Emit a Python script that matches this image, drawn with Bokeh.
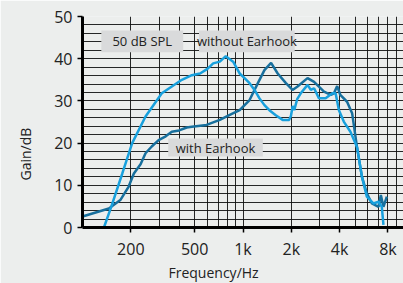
from bokeh.plotting import figure
from bokeh.models import FixedTicker, Label, BoxAnnotation, Range1d, Title
from bokeh.embed import file_html
from bokeh.resources import INLINE

# ---- data ----
freq_without = [136, 151, 177, 204, 247, 312, 416, 480, 540, 600, 652, 717, 781, 868,
                953, 1023, 1099, 1180, 1267, 1360, 1460, 1600, 1766, 1940, 1990, 2040,
                2085, 2180, 2290, 2524, 2645, 2772, 2975, 3270, 3600, 3775, 3960, 4245,
                4670, 5130, 5510, 5910, 6490, 6990, 7325, 7500]
gain_without = [0.0, 4.9, 12.8, 20.0, 26.3, 31.8, 35.0, 36.1, 36.5, 37.6, 38.9, 39.3, 40.6, 39.3,
                36.5, 35.4, 34.2, 32.6, 30.6, 29.0, 27.8, 26.6, 25.5, 25.5, 26.5, 28.8,
                27.8, 30.5, 31.8, 33.8, 32.6, 33.0, 30.6, 30.6, 31.8, 31.8, 27.8, 25.1,
                22.7, 19.1, 12.0, 7.3, 5.7, 6.1, 4.9, 0.6]

freq_with = [100, 146, 172, 194, 209, 230, 247, 270, 298, 330, 360, 400, 446, 480, 593, 717,
             827, 953, 1099, 1238, 1360, 1496, 1645, 1851, 2036, 2187, 2524, 2772, 3197,
             3521, 3685, 3862, 4040, 4449, 4785, 5130, 5510, 5910, 6350, 6990, 7225, 7500, 7870]
gain_with = [2.6, 4.5, 6.5, 9.7, 12.8, 15.0, 17.6, 19.2, 20.7, 21.6, 22.7, 23.0, 23.7, 23.9, 24.3, 25.5,
             26.7, 27.8, 30.2, 34.2, 37.3, 39.0, 36.5, 34.2, 32.6, 33.4, 35.4, 34.5, 32.2,
             31.4, 31.8, 33.5, 31.4, 29.8, 27.1, 19.1, 12.0, 8.1, 5.7, 4.9, 7.7, 4.9, 7.3]

x_tick_values = [200, 500, 1000, 2000, 4000, 8000]
x_tick_labels = ["200", "500", "1k", "2k", "4k", "8k"]
y_tick_values = [0, 10, 20, 30, 40, 50]

series_names = ["without Earhook", "with Earhook"]
level_label = "50 dB SPL"
x_title = "Frequency/Hz"
y_title = "Gain/dB"

# ---- style ----
BG = "#eceeed"
LIGHT = "#18a0dd"
DARK = "#176f9d"
BOXC = "#d9dadb"
TXT = "#222222"
FONT = "Open Sans"

p = figure(x_axis_type="log", output_backend="svg", toolbar_location=None,
           width=403, height=283,
           x_range=Range1d(100, 10000), y_range=Range1d(0, 50))
p.min_border_left = 81
p.min_border_right = 0
p.min_border_top = 16
p.min_border_bottom = 56
p.background_fill_color = BG
p.border_fill_color = BG
p.outline_line_color = None

# grid
grid_x = [m * 10 ** e for e in (2, 3) for m in range(1, 10)] + [10000]
p.xgrid.ticker = FixedTicker(ticks=grid_x)
p.ygrid.ticker = FixedTicker(ticks=list(range(0, 51, 2)))
for g in (p.xgrid, p.ygrid):
    g.grid_line_color = "#111111"
    g.grid_line_width = 1
    g.grid_line_alpha = 0.9

# axes
p.xaxis.ticker = FixedTicker(ticks=x_tick_values)
p.xaxis.major_label_overrides = {v: l for v, l in zip(x_tick_values, x_tick_labels)}
p.yaxis.ticker = FixedTicker(ticks=y_tick_values)
for ax in (p.xaxis, p.yaxis):
    ax.axis_line_color = "black"
    ax.axis_line_width = 3
    ax.major_tick_line_color = "black"
    ax.major_tick_line_width = 1.5
    ax.major_tick_out = 5
    ax.major_tick_in = 0
    ax.minor_tick_line_color = None
    ax.major_label_text_font = FONT
    ax.major_label_text_font_size = "16px"
    ax.major_label_text_color = TXT
p.xaxis.major_label_standoff = 5
p.yaxis.major_label_standoff = 5

# curves
p.line(freq_with, gain_with, line_color=DARK, line_width=2.5)
p.line(freq_without, gain_without, line_color=LIGHT, line_width=2.5)

# label boxes
boxes = [
    (level_label, 131, 424, 41.5, 46.7),
    (series_names[0], 532, 2100, 41.5, 46.7),
    (series_names[1], 342, 1329, 16.8, 21.1),
]
for text, l, r, b, t in boxes:
    p.add_layout(BoxAnnotation(left=l, right=r, bottom=b, top=t,
                               fill_color=BOXC, fill_alpha=1, line_color=None))
    xc = (l * r) ** 0.5
    p.add_layout(Label(x=xc, y=(b + t) / 2, text=text, text_align="center",
                       text_baseline="middle", text_font=FONT,
                       text_font_size="13px", text_color=TXT))

# axis titles as side-panel titles (positioned with offset)
p.add_layout(Title(text=y_title, align="left", offset=47, standoff=30,
                   vertical_align="top",
                   text_font=FONT, text_font_size="14px", text_font_style="normal",
                   text_color=TXT), "left")
p.add_layout(Title(text=x_title, align="left", offset=86, standoff=0,
                   vertical_align="top",
                   text_font=FONT, text_font_size="14px", text_font_style="normal",
                   text_color=TXT), "below")

open("out.html", "w").write(file_html(p, INLINE))
